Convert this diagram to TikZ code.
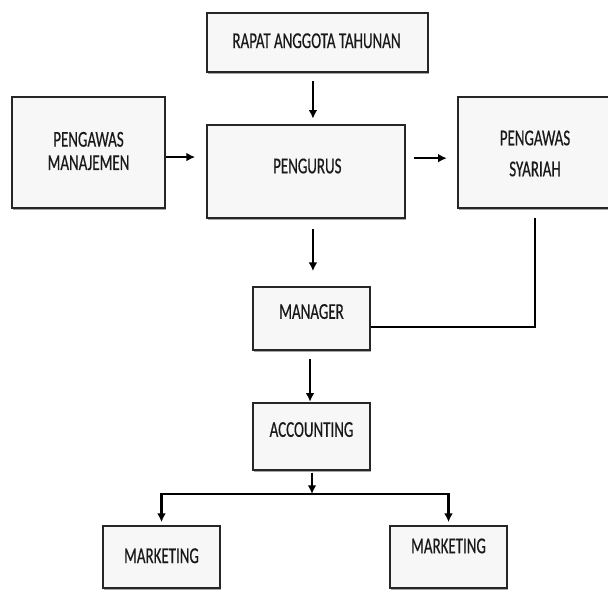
\documentclass[tikz,border=0pt]{standalone}
\usepackage{fontspec}
\setmainfont{Carlito}[FakeStretch=0.66, FakeBold=0.4]
\usetikzlibrary{arrows.meta,shadows}
\tikzset{
  box/.style={draw=black!85, line width=1.8pt, fill=gray!6, rectangle, inner sep=0pt,
    drop shadow={shadow xshift=0.6pt, shadow yshift=-1.2pt, opacity=0.35, fill=black}},
  lbl/.style={font=\fontsize{17pt}{17.5pt}\selectfont, text=black!90, align=center, inner sep=0pt},
  conn/.style={line width=1.6pt, black},
  arr/.style={conn, -{Latex[length=6.5pt,width=6.5pt]}}
}
\begin{document}
\begin{tikzpicture}[x=0.75pt,y=-0.75pt]
\useasboundingbox (0,0) rectangle (608,592);
% boxes (px coordinates, y downward)
\node[box, minimum width=165.75pt, minimum height=44.25pt,
  label={[lbl, yshift=1.3pt, xshift=-0.75pt]center:RAPAT ANGGOTA TAHUNAN}] (rapat) at (317.5,42.5) {};
\node[box, minimum width=114.75pt, minimum height=83.25pt,
  label={[lbl, yshift=1.1pt]center:PENGAWAS\\MANAJEMEN}] (pm) at (88.5,152.5) {};
\node[box, minimum width=148.5pt, minimum height=69.75pt,
  label={[lbl, yshift=4.1pt, xshift=1pt]center:PENGURUS}] (pengurus) at (306,171.5) {};
\node[box, minimum width=115.5pt, minimum height=83.25pt,
  label={[lbl, yshift=-0.75pt, align=center, font=\fontsize{17pt}{23.25pt}\selectfont]center:PENGAWAS\\SYARIAH}] (ps) at (535,152.5) {};
\node[box, minimum width=87.75pt, minimum height=47.25pt,
  label={[lbl, yshift=5.2pt]center:MANAGER}] (manager) at (311.5,318.5) {};
\node[box, minimum width=87.75pt, minimum height=50.25pt,
  label={[lbl, yshift=5.2pt]center:ACCOUNTING}] (accounting) at (311.5,436.5) {};
\node[box, minimum width=87.75pt, minimum height=46.5pt,
  label={[lbl, yshift=0.9pt]center:MARKETING}] (mktl) at (161.5,557) {};
\node[box, minimum width=87.75pt, minimum height=46.5pt,
  label={[lbl, yshift=8.3pt]center:MARKETING}] (mktr) at (448.5,557) {};
% connectors
\coordinate (a1) at ([xshift=-3.4pt]rapat.south);
\draw[arr, shorten <=6pt, shorten >=3.8pt] (a1) -- (a1 |- pengurus.north);
\coordinate (a2) at ([yshift=-3.4pt]pm.east);
\draw[arr, shorten >=8pt] (a2) -- (a2 -| pengurus.west);
\coordinate (a3) at ([yshift=10pt]pengurus.east);
\draw[arr, shorten <=6pt, shorten >=7.5pt] (a3) -- (a3 -| ps.west);
\coordinate (a4) at ([xshift=5.2pt]pengurus.south);
\draw[arr, shorten <=7.5pt, shorten >=11pt] (a4) -- (a4 |- manager.north);
\coordinate (a5) at ([yshift=-6.4pt]manager.east);
\draw[conn, shorten <=6.5pt] (ps.south) |- (a5);
\coordinate (a6) at ([xshift=-1.1pt]manager.south);
\draw[arr, shorten <=6pt] (a6) -- (a6 |- accounting.north);
\coordinate (j) at (312,494);
\draw[arr, shorten <=1pt] (accounting.south -| j) -- (j);
\draw[arr, shorten >=2pt] (j) -| (mktl.north);
\draw[arr, shorten >=2pt] (j) -| (mktr.north);
\end{tikzpicture}
\end{document}
